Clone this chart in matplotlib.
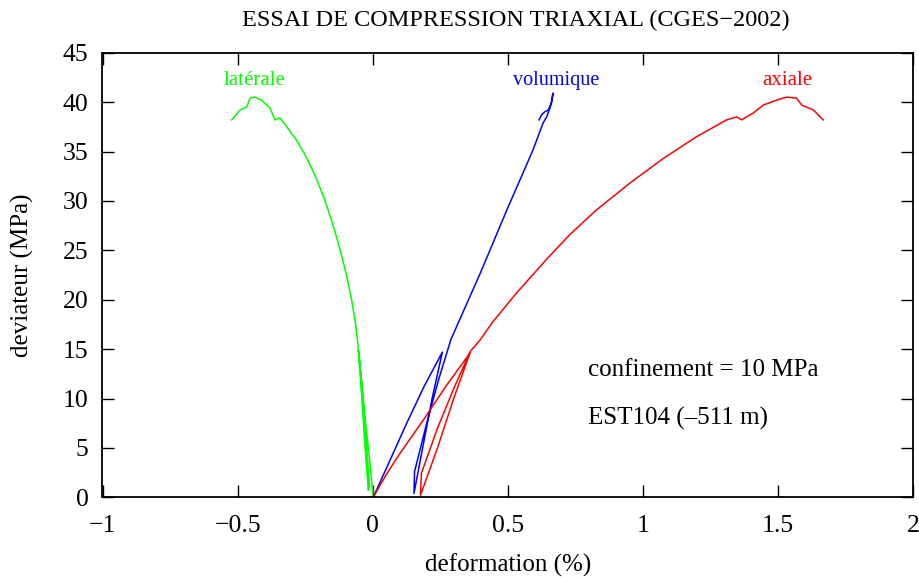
import matplotlib
matplotlib.use("Agg")
import matplotlib.pyplot as plt

# ---- data (deformation %, deviateur MPa) ----
lat_x = [0.002, -0.012, -0.028, -0.042, -0.053,
         -0.040, -0.028, -0.016,
         -0.012, -0.022, -0.036, -0.048, -0.053,
         -0.063, -0.078, -0.097, -0.120, -0.146, -0.176, -0.212, -0.247,
         -0.283, -0.318, -0.343, -0.362, -0.380, -0.411, -0.436, -0.454,
         -0.466, -0.491, -0.522]
lat_y = [0.0, 4.0, 8.0, 12.0, 14.9,
         10.0, 5.0, 0.7,
         1.2, 5.0, 10.0, 13.8, 15.0,
         17.5, 20.0, 22.5, 25.0, 27.5, 30.0, 32.5, 34.5,
         36.2, 37.5, 38.4, 38.2, 39.4, 40.2, 40.5, 40.4,
         39.5, 39.2, 38.2]

vol_x = [0.002, 0.06, 0.126, 0.19, 0.258,
         0.22, 0.185, 0.153,
         0.155, 0.20, 0.245, 0.290,
         0.397, 0.500, 0.548, 0.594, 0.631, 0.644, 0.656, 0.665, 0.667,
         0.662, 0.650, 0.636, 0.625, 0.616]
vol_y = [0.0, 3.5, 7.5, 11.2, 14.7,
         10.0, 5.0, 0.4,
         2.6, 7.5, 12.0, 16.0,
         22.6, 29.3, 32.3, 35.2, 37.9, 38.5, 39.4, 40.4, 40.9,
         39.9, 39.2, 39.0, 38.7, 38.2]

ax_x = [0.002, 0.05, 0.10, 0.187, 0.27, 0.360,
        0.30, 0.24, 0.177,
        0.180, 0.24, 0.30, 0.362, 0.397,
        0.446, 0.533, 0.644, 0.730, 0.829, 0.952, 1.076, 1.199, 1.310,
        1.347, 1.366, 1.409, 1.446, 1.495, 1.532, 1.569, 1.588, 1.631, 1.668]
ax_y = [0.0, 2.3, 4.4, 7.8, 11.2, 14.6,
        10.0, 5.0, 0.2,
        2.4, 7.0, 11.0, 14.8, 15.9,
        17.8, 20.7, 24.1, 26.6, 29.1, 31.8, 34.3, 36.5, 38.2,
        38.5, 38.2, 38.9, 39.7, 40.2, 40.5, 40.4, 39.7, 39.2, 38.2]

x_ticks = [-1, -0.5, 0, 0.5, 1, 1.5, 2]
x_tick_labels = ["\u22121", "\u22120.5", "0", "0.5", "1", "1.5", "2"]
y_ticks = [0, 5, 10, 15, 20, 25, 30, 35, 40, 45]

plt.rcParams['font.family'] = ['Liberation Serif', 'DejaVu Serif']

fig = plt.figure(figsize=(9.2, 5.78), dpi=100)
ax = fig.add_axes([102.5/920, 1-497.3/578, (913-102.5)/920, (497.3-52.7)/578])

ax.plot(lat_x, lat_y, color='#00ff00', lw=1.1)
ax.plot(vol_x, vol_y, color='#0000ff', lw=1.1)
ax.plot(ax_x, ax_y, color='#ff0000', lw=1.1)

ax.set_xlim(-1, 2)
ax.set_ylim(0, 45)
ax.set_xticks(x_ticks)
ax.set_xticklabels(x_tick_labels)
ax.set_yticks(y_ticks)
ax.tick_params(direction='in', length=8.6, width=1.0, top=True, right=True,
               labelsize=18.5, colors='black')
ax.tick_params(axis='x', pad=13)
ax.tick_params(axis='y', pad=10)
for s in ax.spines.values():
    s.set_linewidth(1.3)

ax.text(-0.436, 42.2, "latérale", color='#00ff00', fontsize=15, ha='center', va='center')
ax.text(0.678, 42.2, "volumique", color='#0000ff', fontsize=14.5, ha='center', va='center')
ax.text(1.534, 42.2, "axiale", color='#ff0000', fontsize=15, ha='center', va='center')
ax.text(0.797, 12.9, "confinement = 10 MPa", color='black', fontsize=18, ha='left', va='center')
ax.text(0.797, 8.0, "EST104 (\u2013511 m)", color='black', fontsize=18, ha='left', va='center')

fig.text(516/920, 1-20/578, "ESSAI DE COMPRESSION TRIAXIAL (CGES\u22122002)",
         fontsize=17.5, ha='center', va='center')
fig.text(508/920, 1-565/578, "deformation (%)", fontsize=18, ha='center', va='center')
fig.text(22/920, 1-275/578, "deviateur (MPa)", fontsize=18, ha='center', va='center',
         rotation=90)

fig.savefig("out.png", dpi=100)
